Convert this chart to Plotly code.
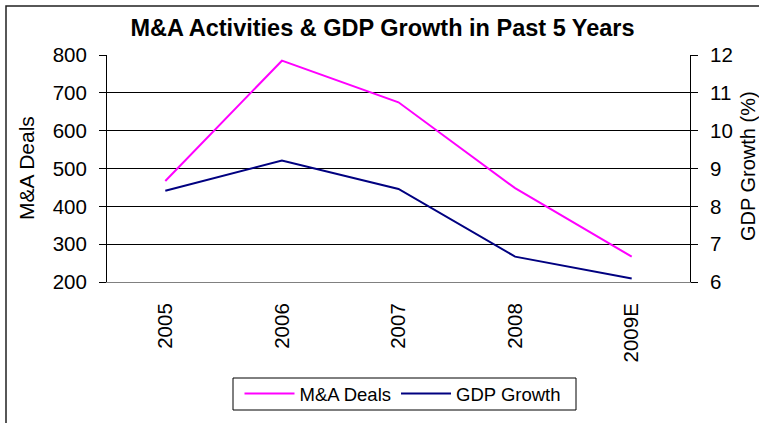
import plotly.graph_objects as go

years = ["2005", "2006", "2007", "2008", "2009E"]
ma_deals = [467, 785, 675, 448, 267]
gdp_growth = [8.41, 9.21, 8.46, 6.67, 6.09]

FONT = "Arial, Liberation Sans, sans-serif"
W, H = 759, 423
L, R, T, B = 107, 69, 55, 141
pw = W - L - R
ph = H - T - B


def px_x(p):
    return (p - L) / pw


def px_y(p):
    return (H - B - p) / ph


fig = go.Figure()
fig.add_trace(go.Scatter(x=years, y=ma_deals, name="M&A Deals", mode="lines",
                         line=dict(color="#FF00FF", width=2)))
fig.add_trace(go.Scatter(x=years, y=gdp_growth, name="GDP Growth", mode="lines",
                         line=dict(color="#000080", width=2), yaxis="y2"))

# outer chart frame (only left/top edges visible in the window)
fig.add_shape(type="rect", xref="paper", yref="paper",
              x0=px_x(6), x1=px_x(W + 5), y0=px_y(H + 5), y1=px_y(6),
              line=dict(color="#202020", width=1.5), fillcolor="rgba(0,0,0,0)", layer="below")
# legend box
fig.add_shape(type="rect", xref="paper", yref="paper",
              x0=px_x(233), x1=px_x(576), y0=px_y(410), y1=px_y(378),
              line=dict(color="black", width=1), fillcolor="rgba(0,0,0,0)", layer="below")

# axis titles
fig.add_annotation(text="M&A Deals", xref="paper", yref="paper",
                   x=px_x(26.5), y=px_y(168.5), textangle=-90, showarrow=False,
                   xanchor="center", yanchor="middle", font=dict(size=21))
fig.add_annotation(text="GDP Growth (%)", xref="paper", yref="paper",
                   x=px_x(748), y=px_y(166), textangle=-90, showarrow=False,
                   xanchor="center", yanchor="middle", font=dict(size=20))

fig.update_layout(
    width=W, height=H,
    margin=dict(l=L, r=R, t=T, b=B, autoexpand=False),
    paper_bgcolor="white", plot_bgcolor="white",
    font=dict(family=FONT, color="black"),
    title=dict(text="<b>M&A Activities & GDP Growth in Past 5 Years</b>",
               x=382.5 / W, xref="container", xanchor="center",
               y=1 - 28 / H, yref="container", yanchor="middle",
               font=dict(size=23.5, family=FONT, color="black")),
    xaxis=dict(type="category", range=[-0.5, 4.5], showgrid=False, showline=True,
               linecolor="#808080", linewidth=1, ticks="", ticklabelstandoff=12,
               tickangle=-90, tickfont=dict(size=20.5), zeroline=False, automargin=False),
    yaxis=dict(range=[200, 800], dtick=100, showgrid=True, gridcolor="black", gridwidth=1,
               showline=True, linecolor="black", linewidth=1, ticks="outside", ticklen=7,
               tickcolor="black", tickfont=dict(size=20.5), zeroline=False,
               ticklabelstandoff=8, automargin=False),
    yaxis2=dict(range=[6, 12], dtick=1, overlaying="y", side="right", showgrid=False,
                showline=True, linecolor="black", linewidth=1, ticks="outside", ticklen=7,
                tickcolor="black", tickfont=dict(size=20.5), zeroline=False,
                ticklabelstandoff=8, automargin=False),
    legend=dict(orientation="h", x=403 / W, xref="container", xanchor="center",
                y=1 - 394 / H, yref="container", yanchor="middle",
                borderwidth=0, bgcolor="rgba(0,0,0,0)",
                font=dict(size=18.5), itemwidth=50, tracegroupgap=0),
    showlegend=True,
)

fig.write_html("out.html", config={"displayModeBar": False},
               post_script="document.body.style.margin='0';")
